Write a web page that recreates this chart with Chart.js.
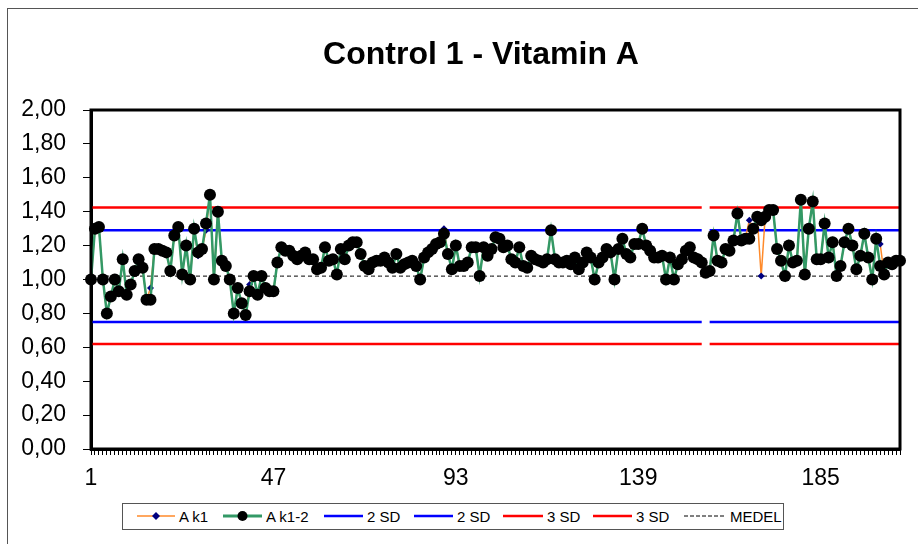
<!DOCTYPE html>
<html>
<head>
<meta charset="utf-8">
<script src="https://cdn.jsdelivr.net/npm/chart.js@4.4.0/dist/chart.umd.min.js"></script>
<style>
    body { margin: 0; overflow: hidden; background: #fff; font-family: "Liberation Sans", Arial, sans-serif; }
    #frame { position: absolute; left: 7px; top: 8px; width: 1000px; height: 600px; border: 1px solid #555; }
    #wrap { position: absolute; left: 0; top: 0; width: 962px; height: 544px; }
    #legend { position: absolute; left: 122px; top: 503px; width: 660px; height: 25px; border: 1px solid #555; background: #fff; }
    .item { position: absolute; top: 0; height: 25px; line-height: 25px; font-size: 15px; color: #000; white-space: nowrap; }
    .item svg { position: absolute; top: 6px; }
    .item span { position: absolute; top: 0; }
</style>
</head>
<body>
<div id="frame"></div>
<div id="wrap"><canvas id="qcChart" width="962" height="544"></canvas></div>
<div id="legend"></div>
<script>
// x categories: run number 1..205
var labels = [];
for (var n = 1; n <= 205; n++) labels.push(String(n));
var tickLabels = ['1', '47', '93', '139', '185'];
var chartTitle = 'Control 1 - Vitamin A';

// A k1-2 (green line, black circles)
var akOne2 = [
    1.00, 1.30, 1.31, 1.00, 0.80, 0.90, 1.00, 0.93, 1.12, 0.91,
    0.97, 1.05, 1.12, 1.07, 0.88, 0.88, 1.18, 1.18, 1.17, 1.16,
    1.05, 1.26, 1.31, 1.03, 1.20, 1.00, 1.30, 1.16, 1.18, 1.33,
    1.50, 1.00, 1.40, 1.11, 1.08, 1.00, 0.80, 0.95, 0.86, 0.79,
    0.93, 1.02, 0.91, 1.02, 0.95, 0.93, 0.93, 1.10, 1.19, 1.17,
    1.17, 1.14, 1.12, 1.14, 1.16, 1.12, 1.12, 1.06, 1.07, 1.19,
    1.11, 1.12, 1.03, 1.18, 1.12, 1.20, 1.22, 1.22, 1.15, 1.08,
    1.06, 1.10, 1.11, 1.11, 1.13, 1.10, 1.07, 1.15, 1.07, 1.09,
    1.10, 1.11, 1.08, 1.00, 1.13, 1.16, 1.18, 1.21, 1.22, 1.27,
    1.15, 1.06, 1.20, 1.08, 1.08, 1.10, 1.19, 1.19, 1.02, 1.19,
    1.14, 1.18, 1.25, 1.24, 1.19, 1.20, 1.12, 1.10, 1.19, 1.08,
    1.07, 1.14, 1.12, 1.11, 1.10, 1.12, 1.29, 1.12, 1.10, 1.10,
    1.11, 1.09, 1.13, 1.06, 1.10, 1.16, 1.13, 1.00, 1.10, 1.13,
    1.18, 1.16, 1.00, 1.18, 1.24, 1.15, 1.13, 1.21, 1.21, 1.30,
    1.20, 1.17, 1.13, 1.13, 1.14, 1.00, 1.13, 1.00, 1.09, 1.12,
    1.17, 1.19, 1.13, 1.12, 1.10, 1.04, 1.05, 1.26, 1.11, 1.10,
    1.18, 1.17, 1.23, 1.39, 1.23, 1.24, 1.24, 1.30, 1.37, 1.35,
    1.37, 1.41, 1.41, 1.18, 1.11, 1.02, 1.20, 1.10, 1.11, 1.47,
    1.03, 1.30, 1.46, 1.12, 1.12, 1.33, 1.13, 1.22, 1.02, 1.08,
    1.22, 1.30, 1.20, 1.06, 1.14, 1.27, 1.13, 1.00, 1.24, 1.08,
    1.03, 1.10, 1.09, 1.11, 1.11
];

// A k1 (orange line, navy diamonds)
var akOne = [
    1.00, 1.30, 1.31, 1.00, 0.80, 0.90, 1.00, 0.93, 1.12, 0.91,
    0.97, 1.05, 1.12, 1.07, 0.88, 0.95, 1.18, 1.18, 1.17, 1.16,
    1.05, 1.26, 1.31, 1.03, 1.20, 1.00, 1.30, 1.14, 1.18, 1.29,
    1.50, 1.00, 1.40, 1.11, 1.08, 1.00, 0.80, 0.95, 0.86, 0.79,
    0.97, 1.02, 0.91, 1.02, 0.95, 0.93, 0.93, 1.10, 1.19, 1.17,
    1.17, 1.14, 1.12, 1.14, 1.16, 1.12, 1.12, 1.06, 1.07, 1.19,
    1.11, 1.12, 1.03, 1.18, 1.12, 1.20, 1.22, 1.22, 1.15, 1.08,
    1.06, 1.10, 1.11, 1.11, 1.13, 1.10, 1.07, 1.15, 1.07, 1.09,
    1.10, 1.11, 1.08, 1.00, 1.13, 1.16, 1.18, 1.21, 1.22, 1.30,
    1.15, 1.06, 1.20, 1.08, 1.08, 1.10, 1.19, 1.19, 1.02, 1.19,
    1.14, 1.18, 1.25, 1.24, 1.19, 1.20, 1.12, 1.10, 1.19, 1.08,
    1.07, 1.14, 1.12, 1.11, 1.10, 1.12, 1.29, 1.12, 1.10, 1.10,
    1.11, 1.09, 1.13, 1.06, 1.10, 1.16, 1.13, 1.00, 1.10, 1.13,
    1.18, 1.16, 1.00, 1.18, 1.24, 1.15, 1.13, 1.21, 1.21, 1.30,
    1.20, 1.17, 1.13, 1.13, 1.14, 1.00, 1.13, 1.00, 1.09, 1.12,
    1.17, 1.19, 1.13, 1.12, 1.10, 1.04, 1.05, 1.26, 1.11, 1.10,
    1.18, 1.17, 1.23, 1.39, 1.23, 1.24, 1.35, 1.30, 1.37, 1.02,
    1.37, 1.41, 1.41, 1.18, 1.11, 1.02, 1.20, 1.10, 1.11, 1.47,
    1.03, 1.30, 1.46, 1.12, 1.12, 1.33, 1.13, 1.22, 1.02, 1.08,
    1.22, 1.30, 1.20, 1.06, 1.14, 1.27, 1.13, 1.00, 1.24, 1.21,
    1.03, 1.10, 1.09, 1.11, 1.11
];

// control limits
var medel = 1.02;
var sd2High = 1.29, sd2Low = 0.75;
var sd3High = 1.425, sd3Low = 0.62;
var breakAt = 155; // limit lines have a short break here

function limitLine(value, broken) {
    return labels.map(function (l, i) {
        return (broken && i === breakAt) ? null : value;
    });
}

var legendItems = [
    { text: 'A k1', x: 14, w: 38, color: '#ff8a2a', width: 1.5, marker: 'diamond' },
    { text: 'A k1-2', x: 100, w: 39, color: '#339966', width: 3, marker: 'circle' },
    { text: '2 SD', x: 201, w: 39, color: '#0000ff', width: 2.5 },
    { text: '2 SD', x: 291, w: 39, color: '#0000ff', width: 2.5 },
    { text: '3 SD', x: 380, w: 40, color: '#ff0000', width: 2.5 },
    { text: '3 SD', x: 470, w: 39, color: '#ff0000', width: 2.5 },
    { text: 'MEDEL', x: 561, w: 42, color: '#000', width: 1, dash: true }
];

function $each(arr, fn) {
    for (var i = 0; i < arr.length; i++) fn(arr[i], i);
}

function buildLegend() {
    var html = '';
    $each(legendItems, function (item) {
        var svg = '<svg width="' + item.w + '" height="12" style="left:0">' +
            '<line x1="0" y1="6" x2="' + item.w + '" y2="6" stroke="' + item.color + '" stroke-width="' + item.width + '"' +
            (item.dash ? ' stroke-dasharray="4,2"' : '') + '/>';
        if (item.marker === 'diamond') {
            var c = item.w / 2;
            svg += '<polygon points="' + c + ',2 ' + (c + 4) + ',6 ' + c + ',10 ' + (c - 4) + ',6" fill="#000080"/>';
        }
        if (item.marker === 'circle') {
            svg += '<circle cx="' + (item.w / 2) + '" cy="6" r="5" fill="#000"/>';
        }
        svg += '</svg>';
        html += '<div class="item" style="left:' + item.x + 'px">' + svg +
            '<span style="left:' + (item.w + 4) + 'px">' + item.text + '</span></div>';
    });
    document.getElementById('legend').innerHTML = html;
}

// plot frame + title (title is centred on the whole chart box, not the plot)
var plotBorder = {
    id: 'plotBorder',
    afterDraw: function (chart) {
        var a = chart.chartArea;
        var ctx = chart.ctx;
        ctx.save();
        ctx.strokeStyle = '#000';
        ctx.lineWidth = 3;
        ctx.strokeRect(a.left, a.top, a.right - a.left, a.bottom - a.top);
        ctx.fillStyle = '#000';
        ctx.font = 'bold 32px "Liberation Sans", Arial, sans-serif';
        ctx.textAlign = 'center';
        ctx.textBaseline = 'middle';
        ctx.fillText(chartTitle, 481, 55);
        ctx.restore();
    }
};

window.onload = function () {
    buildLegend();

    var limitStyle = function (label, data, color, width, dash) {
        return {
            label: label,
            data: data,
            borderColor: color,
            borderWidth: width,
            borderDash: dash || [],
            pointRadius: 0,
            fill: false,
            spanGaps: false,
            order: 3
        };
    };

    var ctx = document.getElementById('qcChart').getContext('2d');
    new Chart(ctx, {
        type: 'line',
        data: {
            labels: labels,
            datasets: [
                {
                    label: 'A k1',
                    data: akOne,
                    borderColor: '#ff8a2a',
                    borderWidth: 1.5,
                    pointStyle: 'rectRot',
                    pointRadius: 3.5,
                    pointBackgroundColor: '#000080',
                    pointBorderColor: '#000080',
                    pointBorderWidth: 0,
                    order: 2
                },
                {
                    label: 'A k1-2',
                    data: akOne2,
                    borderColor: '#339966',
                    borderWidth: 2.5,
                    pointStyle: 'circle',
                    pointRadius: 6,
                    pointBackgroundColor: '#000',
                    pointBorderColor: '#000',
                    pointBorderWidth: 0,
                    order: 1
                },
                limitStyle('2 SD', limitLine(sd2High, true), '#0000ff', 2.5),
                limitStyle('2 SD', limitLine(sd2Low, true), '#0000ff', 2.5),
                limitStyle('3 SD', limitLine(sd3High, true), '#ff0000', 2.5),
                limitStyle('3 SD', limitLine(sd3Low, true), '#ff0000', 2.5),
                limitStyle('MEDEL', limitLine(medel, false), '#000', 1, [4, 3])
            ]
        },
        options: {
            responsive: false,
            animation: false,
            layout: { padding: { left: 0, right: 62, top: 110, bottom: 0 } },
            plugins: {
                legend: { display: false },
                tooltip: { enabled: false },
                title: { display: false }
            },
            scales: {
                x: {
                    type: 'category',
                    offset: false,
                    afterFit: function (scale) { scale.height = 95; },
                    grid: { drawOnChartArea: false, drawTicks: true, tickLength: 6, color: '#000', lineWidth: 1 },
                    border: { display: true, color: '#000', width: 3 },
                    ticks: {
                        autoSkip: false,
                        maxRotation: 0,
                        padding: 10,
                        color: '#000',
                        font: { family: 'Liberation Sans', size: 23 },
                        callback: function (value, index) {
                            var l = labels[index];
                            return tickLabels.indexOf(l) >= 0 ? l : '';
                        }
                    }
                },
                y: {
                    min: 0,
                    max: 2,
                    afterFit: function (scale) { scale.width = 91; },
                    grid: { drawOnChartArea: false, drawTicks: true, tickLength: 8, color: '#000', lineWidth: 1 },
                    border: { display: true, color: '#000', width: 3 },
                    ticks: {
                        stepSize: 0.2,
                        padding: 17,
                        color: '#000',
                        font: { family: 'Liberation Sans', size: 23 },
                        callback: function (value) {
                            return value.toFixed(2).replace('.', ',');
                        }
                    }
                }
            }
        },
        plugins: [plotBorder]
    });
};
</script>
</body>
</html>
